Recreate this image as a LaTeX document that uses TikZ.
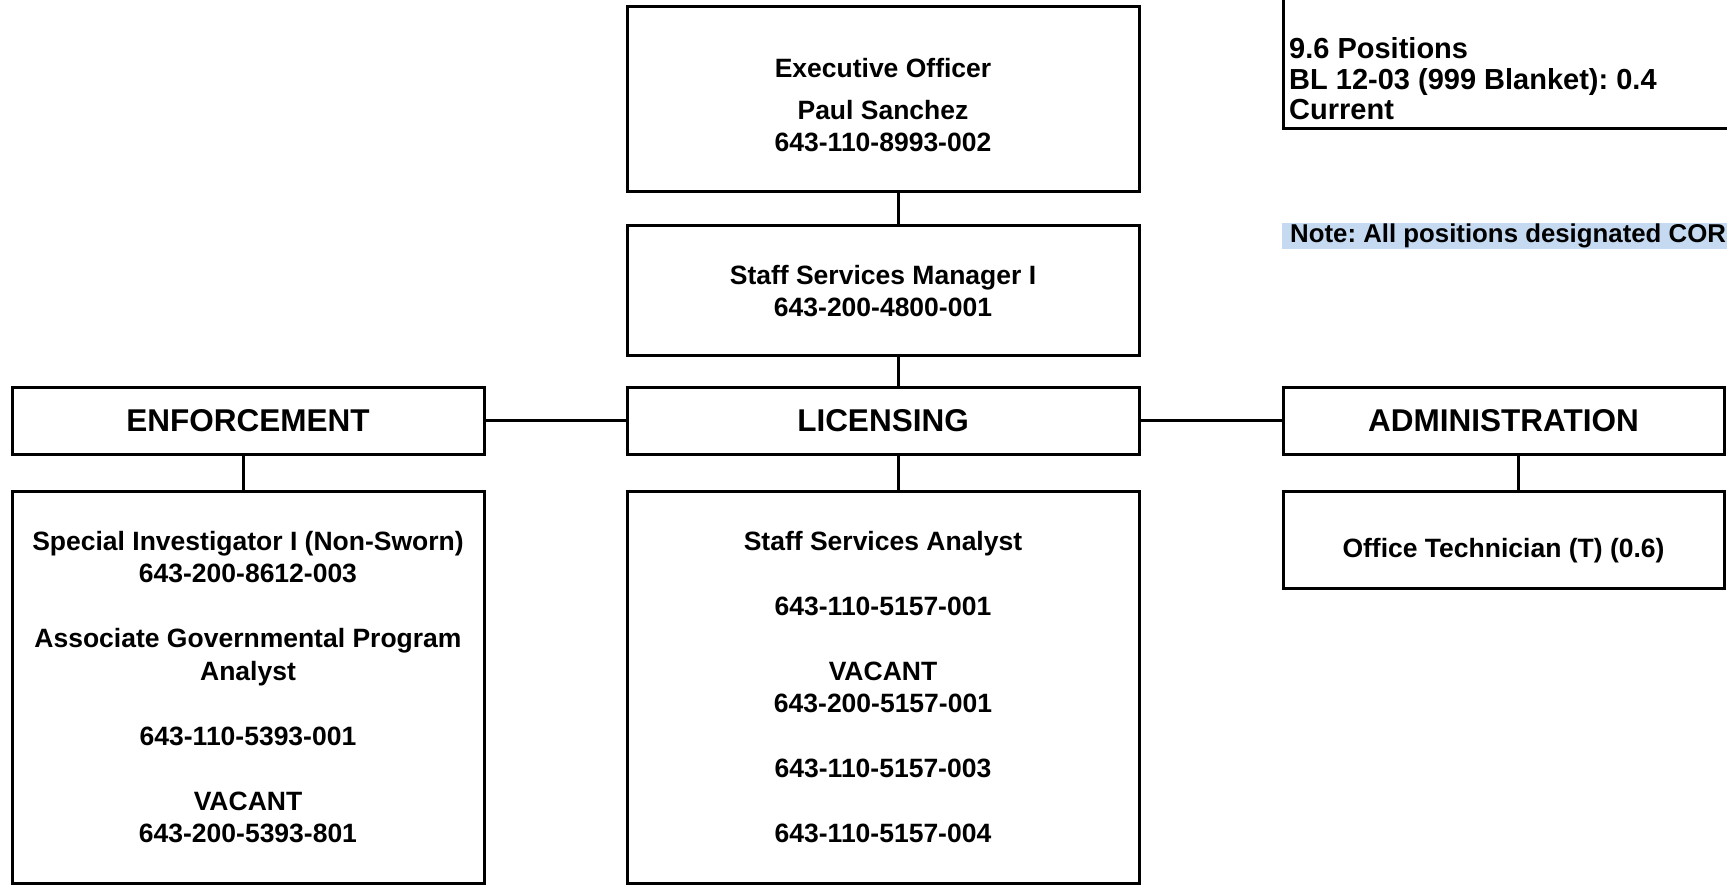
\documentclass[tikz,border=0pt]{standalone}
\usepackage{fontspec}
\setmainfont{Liberation Sans}
\frenchspacing
\definecolor{notebg}{RGB}{197,217,241}
\newcommand\myBody{\fontsize{26.5}{32.5}\selectfont\bfseries}
\newcommand\myHead{\fontsize{31.5}{38}\selectfont\bfseries}
\newcommand\myInfo{\fontsize{29}{30.5}\selectfont\bfseries}
\newcommand\myNote{\fontsize{25.8}{31}\selectfont\bfseries}
\tikzset{
  orgbox/.style={draw=black, line width=3pt, inner sep=0pt, align=center, font=\myBody},
  headbox/.style={orgbox, font=\myHead, minimum height=66pt},
  plaintext/.style={font=\myBody, align=center, inner sep=0pt},
  link/.style={draw=black, line width=3pt},
}
\begin{document}
\begin{tikzpicture}[x=1pt,y=-1pt]
\useasboundingbox (0,0) rectangle (1727,890);
\clip (0,0) rectangle (1727,890);
% top
\node[orgbox, minimum width=512pt, minimum height=185pt] (exec) at (883,99.5) {};
\node[plaintext] (exect) at (883,105.5)
  {Executive Officer\\[9pt]Paul Sanchez\\643-110-8993-002};
\node[orgbox, minimum width=512pt, minimum height=130pt] (ssm) at (883,291)
  {Staff Services Manager I\\643-200-4800-001};
% headings
\node[headbox, minimum width=472pt] (enf) at (248,421) {ENFORCEMENT};
\node[headbox, minimum width=512pt] (lic) at (883,421) {LICENSING};
\node[headbox, minimum width=441pt] (adm) at (1503.5,421) {ADMINISTRATION};
% details
\node[orgbox, minimum width=472pt, minimum height=392pt] (enfd) at (248,687)
  {Special Investigator I (Non-Sworn)\\643-200-8612-003\\[32.5pt]Associate Governmental Program\\Analyst\\[32.5pt]643-110-5393-001\\[32.5pt]VACANT\\643-200-5393-801};
\node[orgbox, minimum width=512pt, minimum height=392pt] (licd) at (883,687)
  {Staff Services Analyst\\[32.5pt]643-110-5157-001\\[32.5pt]VACANT\\643-200-5157-001\\[32.5pt]643-110-5157-003\\[32.5pt]643-110-5157-004};
\node[orgbox, minimum width=441pt, minimum height=97pt] (admd) at (1503.5,539.5) {};
\node[plaintext] (admdt) at (1503.5,551) {Office Technician (T) (0.6)};
% info box and note
\node[draw=black, line width=3pt, inner sep=0pt, minimum width=520pt, minimum height=170pt, anchor=south west] (infobox) at (1282,130) {};
\node[font=\myInfo, align=left, inner sep=0pt, anchor=west] (info) at (1289,79)
  {9.6 Positions\\BL 12-03 (999 Blanket): 0.4\\Current};
\node[fill=notebg, inner sep=0pt, minimum width=520pt, minimum height=26pt, anchor=north west] (notebox) at (1282,223) {};
\node[font=\myNote, inner sep=0pt, anchor=west] (note) at (1290,236) {Note: All positions designated COR};
% connectors
\coordinate (cx) at (898,0);
\coordinate (ex) at (243,0);
\coordinate (ax) at (1518,0);
\draw[link] (exec.south -| cx) -- (ssm.north -| cx);
\draw[link] (ssm.south -| cx) -- (lic.north -| cx);
\draw[link] (lic.south -| cx) -- (licd.north -| cx);
\draw[link] (enf.south -| ex) -- (enfd.north -| ex);
\draw[link] (adm.south -| ax) -- (admd.north -| ax);
\draw[link] (enf.east) -- (lic.west);
\draw[link] (lic.east) -- (adm.west);
\end{tikzpicture}
\end{document}
